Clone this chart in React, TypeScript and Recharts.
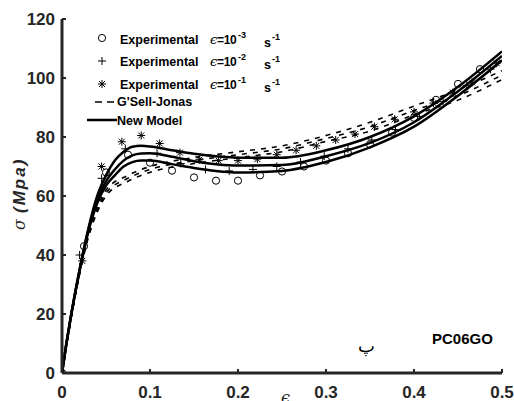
import React from 'react'
import { ComposedChart, Line, Scatter, XAxis, YAxis } from 'recharts'

const xTicks = [0, 0.1, 0.2, 0.3, 0.4, 0.5]
const yTicks = [0, 20, 40, 60, 80, 100, 120]

// New Model (solid) curves
const modelStrain = [0, 0.005, 0.01, 0.02, 0.03, 0.04, 0.05, 0.06, 0.07, 0.08, 0.09, 0.1, 0.125, 0.15, 0.175, 0.2, 0.25, 0.3, 0.35, 0.4, 0.45, 0.5]
const modelHigh = [0, 10, 19, 35, 49, 60, 67, 72, 75, 76.7, 77, 76.8, 75.5, 74.3, 73.5, 73, 73, 75.5, 80, 87, 97, 109]
const modelMid = [0, 10, 19, 35, 48.5, 58.5, 65, 69, 72, 73.8, 74.4, 74.5, 73.3, 71.8, 70.8, 70.3, 70.5, 73.5, 78, 85, 95.5, 107.5]
const modelLow = [0, 10, 19, 34.5, 48, 57.5, 63.5, 67, 70, 71.5, 72, 72, 70.8, 69.5, 68.5, 68, 68.5, 71.5, 76.5, 83.5, 94, 106]

// G'Sell-Jonas (dashed) curves
const gsjStrain = [0, 0.01, 0.02, 0.03, 0.04, 0.05, 0.075, 0.1, 0.15, 0.2, 0.25, 0.3, 0.35, 0.4, 0.45, 0.5]
const gsjHigh = [0, 18, 34, 47, 56, 62, 67, 70, 73, 75, 77, 80.5, 85, 90.5, 96, 102.5]
const gsjMid = [0, 18, 34, 46.5, 55, 61, 66, 69, 72, 74, 76, 79.5, 83.5, 89, 94, 101]
const gsjLow = [0, 18, 33.5, 46, 54.5, 60, 65, 68, 71, 73, 75, 78.5, 82, 87.5, 92.5, 99.5]

// Experimental points
const expSlowX = [0, 0.025, 0.05, 0.075, 0.1, 0.125, 0.15, 0.175, 0.2, 0.225, 0.25, 0.275, 0.3, 0.325, 0.35, 0.375, 0.4, 0.425, 0.45, 0.475]
const expSlowY = [0, 43, 68, 74, 71.3, 68.6, 66.3, 65.2, 65.2, 67, 68.3, 70, 72, 74.5, 77.5, 81.5, 86.5, 92.6, 98, 103]
const expMidX = [0, 0.02, 0.045, 0.072, 0.108, 0.135, 0.163, 0.19, 0.217, 0.244, 0.271, 0.298, 0.325, 0.352, 0.379, 0.406, 0.433, 0.46, 0.487]
const expMidY = [0, 40, 66, 76, 74.5, 71, 69, 68.5, 69, 70, 71.5, 73.5, 76, 79, 82.5, 87, 92, 97.5, 103]
const expFastX = [0, 0.023, 0.045, 0.068, 0.09, 0.111, 0.134, 0.156, 0.178, 0.2, 0.222, 0.244, 0.266, 0.289, 0.311, 0.333, 0.355, 0.378, 0.4, 0.422, 0.444, 0.466, 0.494]
const expFastY = [0, 38, 70, 78.4, 80.5, 77.8, 74.7, 72.3, 72, 72, 72.5, 74, 75.5, 77, 79, 81, 83.5, 86, 88.5, 91.5, 95, 98.5, 105]

const pts = (xs: number[], ys: number[]) => xs.map((x, i) => ({ x, y: ys[i] }))

const AXIS = '#262626'
const FONT = '"Liberation Sans", Arial, sans-serif'

const XTick = ({ x, y, payload }: any) => (
  <g>
    <line x1={x} x2={x} y1={y} y2={y - 4} stroke={AXIS} strokeWidth={2} />
    <text x={x} y={y + 25} textAnchor="middle" fontFamily={FONT} fontWeight="bold" fontSize={17} fill={AXIS}>
      {payload.value}
    </text>
  </g>
)

const YTick = ({ x, y, payload }: any) => (
  <g>
    <line x1={x} x2={x + 4} y1={y} y2={y} stroke={AXIS} strokeWidth={2} />
    <text x={x - 7} y={y + 6} textAnchor="end" fontFamily={FONT} fontWeight="bold" fontSize={17} fill={AXIS}>
      {payload.value}
    </text>
  </g>
)

const CircleMark = ({ cx, cy }: any) => (
  <circle cx={cx} cy={cy} r={3.6} fill="none" stroke="#000" strokeWidth={1} />
)

const PlusMark = ({ cx, cy }: any) => (
  <path d={`M${cx - 4},${cy}H${cx + 4}M${cx},${cy - 4}V${cy + 4}`} stroke="#000" strokeWidth={1} />
)

const StarMark = ({ cx, cy }: any) => (
  <path
    d={`M${cx - 4},${cy}H${cx + 4}M${cx},${cy - 4}V${cy + 4}M${cx - 3},${cy - 3}L${cx + 3},${cy + 3}M${cx - 3},${cy + 3}L${cx + 3},${cy - 3}`}
    stroke="#000"
    strokeWidth={1}
  />
)

const rates = ['-3', '-2', '-1']
const expRows = [44, 66, 89]

const Overlay = () => (
  <svg width={514} height={401} style={{ position: 'absolute', left: 0, top: 0, pointerEvents: 'none' }}>
    {/* legend */}
    <circle cx={102} cy={38} r={3.6} fill="none" stroke="#000" strokeWidth={1} />
    <PlusMark cx={102} cy={61} />
    <StarMark cx={102} cy={84} />
    <path d="M95,102H102M107,102H114" stroke="#000" strokeWidth={1.5} />
    <path d="M87,120H117" stroke="#000" strokeWidth={2.5} />
    {expRows.map((by, i) => (
      <g key={i} fontFamily={FONT} fontWeight="bold" fill="#000">
        <text x={120} y={by} fontSize={12.5}>Experimental</text>
        <text x={210} y={by} fontSize={13} fontFamily='"DejaVu Serif", serif' fontStyle="italic" fontWeight="normal">ϵ</text>
        <text x={217} y={by} fontSize={12} letterSpacing={-0.3}>=10</text>
        <text x={238} y={by - 6} fontSize={9}>{rates[i]}</text>
        <text x={264} y={by + 3} fontSize={12.5}>s</text>
        <text x={272} y={by - 4} fontSize={9}>-1</text>
      </g>
    ))}
    <text x={117} y={106} fontFamily={FONT} fontWeight="bold" fontSize={12.5}>G'Sell-Jonas</text>
    <text x={117} y={125} fontFamily={FONT} fontWeight="bold" fontSize={12.5}>New Model</text>

    {/* axis titles */}
    <g transform="translate(25,193) rotate(-90)" fill={AXIS}>
      <text x={-37} y={0} fontSize={16} fontStyle="italic" fontFamily='"DejaVu Serif", serif'>σ</text>
      <text x={-20} y={0} fontSize={17} fontStyle="italic" fontWeight="bold" fontFamily={FONT} letterSpacing={2}>(Mpa)</text>
    </g>
    <text x={281} y={403} fontSize={16} fontStyle="italic" fontFamily='"DejaVu Serif", serif' fill={AXIS}>ϵ</text>

    {/* annotations */}
    <text x={366} y={352} textAnchor="middle" fontSize={18} fill="#000">پ</text>
    <text x={432} y={344} fontFamily={FONT} fontWeight="bold" fontSize={15} fill="#000">PC06GO</text>
  </svg>
)

const App: React.FC = () => (
  <div style={{ position: 'absolute', left: 0, top: 0, width: 514, height: 401, background: '#fff' }}>
    <ComposedChart width={514} height={401} margin={{ top: 19, right: 12, bottom: 0, left: 0 }}>
      <XAxis
        type="number"
        dataKey="x"
        domain={[0, 0.5]}
        ticks={xTicks}
        height={28}
        tickSize={0}
        tickMargin={0}
        tick={<XTick />}
        axisLine={{ stroke: AXIS, strokeWidth: 3 }}
        allowDataOverflow
      />
      <YAxis
        type="number"
        dataKey="y"
        domain={[0, 120]}
        ticks={yTicks}
        width={62}
        tickSize={0}
        tickMargin={0}
        tick={<YTick />}
        axisLine={{ stroke: AXIS, strokeWidth: 3 }}
        allowDataOverflow
      />
      <Line data={pts(gsjStrain, gsjHigh)} dataKey="y" type="monotone" stroke="#000" strokeWidth={1.6} strokeDasharray="5 6" dot={false} isAnimationActive={false} />
      <Line data={pts(gsjStrain, gsjMid)} dataKey="y" type="monotone" stroke="#000" strokeWidth={1.6} strokeDasharray="5 6" dot={false} isAnimationActive={false} />
      <Line data={pts(gsjStrain, gsjLow)} dataKey="y" type="monotone" stroke="#000" strokeWidth={1.6} strokeDasharray="5 6" dot={false} isAnimationActive={false} />
      <Line data={pts(modelStrain, modelHigh)} dataKey="y" type="monotone" stroke="#000" strokeWidth={2.5} dot={false} isAnimationActive={false} />
      <Line data={pts(modelStrain, modelMid)} dataKey="y" type="monotone" stroke="#000" strokeWidth={2.5} dot={false} isAnimationActive={false} />
      <Line data={pts(modelStrain, modelLow)} dataKey="y" type="monotone" stroke="#000" strokeWidth={2.5} dot={false} isAnimationActive={false} />
      <Scatter data={pts(expSlowX, expSlowY)} shape={<CircleMark />} isAnimationActive={false} />
      <Scatter data={pts(expMidX, expMidY)} shape={<PlusMark />} isAnimationActive={false} />
      <Scatter data={pts(expFastX, expFastY)} shape={<StarMark />} isAnimationActive={false} />
    </ComposedChart>
    <Overlay />
  </div>
)

export default App
